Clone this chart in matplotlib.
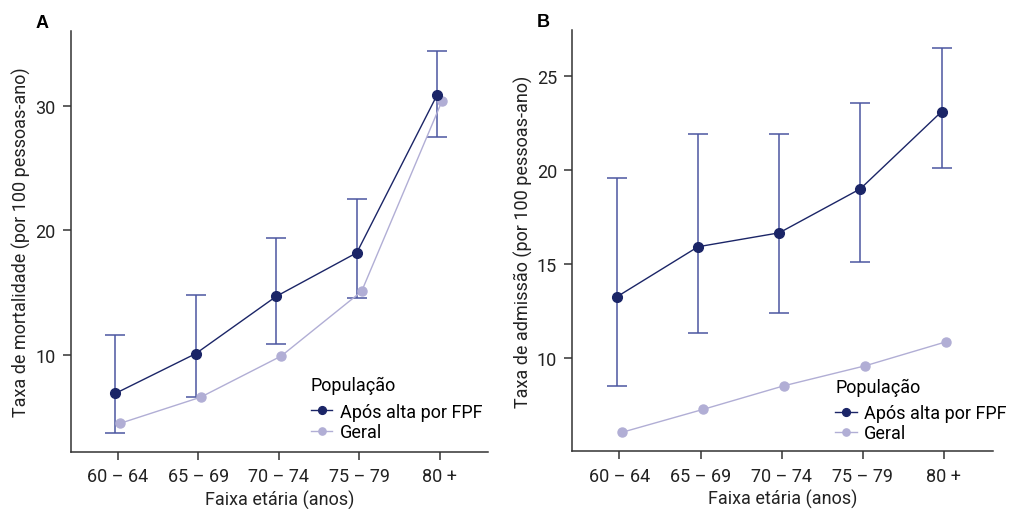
import matplotlib.pyplot as plt
import numpy as np

plt.rcParams['font.family'] = ['Roboto', 'DejaVu Sans']

age_groups = ['60 – 64', '65 – 69', '70 – 74', '75 – 79', '80 +']

# panel A - mortalidade
mort_fpf = [6.9, 10.1, 14.7, 18.2, 30.9]
mort_fpf_lo = [3.7, 6.6, 10.9, 14.6, 27.5]
mort_fpf_hi = [11.6, 14.8, 19.4, 22.5, 34.4]
mort_geral = [4.5, 6.6, 9.9, 15.1, 30.4]

# panel B - admissao
adm_fpf = [13.26, 15.92, 16.66, 19.0, 23.1]
adm_fpf_lo = [8.53, 11.33, 12.39, 15.1, 20.09]
adm_fpf_hi = [19.57, 21.91, 21.91, 23.55, 26.47]
adm_geral = [6.05, 7.27, 8.53, 9.59, 10.87]

dark = '#1b2567'
bar_col = '#4b56a0'
light = '#b1aed5'
axis_col = '#333333'

fig = plt.figure(figsize=(10.16, 5.10), dpi=100)
axA = fig.add_axes([0.0699, 0.1118, 0.4104, 0.8252])
axB = fig.add_axes([0.5633, 0.1130, 0.4137, 0.8268])


def draw(ax, fpf, lo, hi, geral, ylim, yticks, ylabel, letter, leg_anchor):
    x = np.arange(1, len(age_groups) + 1)
    fpf = np.array(fpf)
    yerr = [fpf - np.array(lo), np.array(hi) - fpf]
    ax.errorbar(x - 0.03, fpf, yerr=yerr, fmt='none', ecolor=bar_col,
                elinewidth=1.1, capsize=7, capthick=1.1, zorder=2)
    ax.plot(x + 0.03, geral, '-o', color=light, lw=1.0, ms=6.5,
            label='Geral', zorder=3)
    ax.plot(x - 0.03, fpf, '-o', color=dark, lw=1.0, ms=7,
            label='Após alta por FPF', zorder=4)
    ax.set_xlim(0.42, 5.6)
    ax.set_ylim(*ylim)
    ax.set_xticks(x)
    ax.set_xticklabels(age_groups)
    ax.set_yticks(yticks)
    for s in ['top', 'right']:
        ax.spines[s].set_visible(False)
    for s in ['left', 'bottom']:
        ax.spines[s].set_color(axis_col)
        ax.spines[s].set_linewidth(1.1)
    ax.tick_params(axis='both', direction='out', length=6, width=1.1,
                   color=axis_col, labelsize=13, labelcolor='#222222', pad=5)
    ax.set_xlabel('Faixa etária (anos)', fontsize=13, color='#222222', labelpad=3)
    ax.set_ylabel(ylabel, fontsize=13, color='#222222', labelpad=3)
    h, l = ax.get_legend_handles_labels()
    leg = ax.legend(h[::-1], l[::-1], title='População', loc='upper left',
                    bbox_to_anchor=leg_anchor, frameon=False, fontsize=13,
                    title_fontsize=13, handlelength=1.2, handletextpad=0.4,
                    labelspacing=0.12, borderaxespad=0, borderpad=0,
                    markerscale=0.8)
    leg._legend_box.align = 'left'
    leg._legend_box.sep = 6
    ax.text(-0.07, 1.04, letter, transform=ax.transAxes, fontsize=13,
            fontweight='bold', family='Liberation Sans', ha='center', va='top')


draw(axA, mort_fpf, mort_fpf_lo, mort_fpf_hi, mort_geral, (2.2, 36),
     [10, 20, 30], 'Taxa de mortalidade (por 100 pessoas-ano)', 'A', (0.575, 0.18))
draw(axB, adm_fpf, adm_fpf_lo, adm_fpf_hi, adm_geral, (5.04, 27.46),
     [10, 15, 20, 25], 'Taxa de admissão (por 100 pessoas-ano)', 'B', (0.625, 0.175))

fig.savefig('out.png', dpi=100)
